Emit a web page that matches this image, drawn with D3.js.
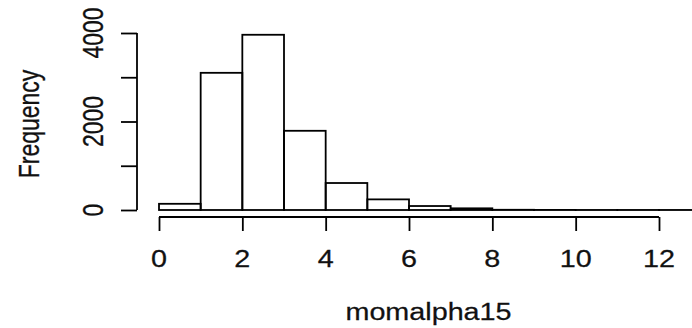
<!DOCTYPE html>
<html>
<head>
<meta charset="utf-8">
<script src="https://cdn.jsdelivr.net/npm/d3@7"></script>
<style>
  html, body { margin: 0; padding: 0; background: #fff; }
  svg { display: block; }
  text { font-family: "Liberation Sans", Arial, sans-serif; fill: #111; stroke: #111; stroke-width: 0.25px; }
</style>
</head>
<body>
<svg id="chart" width="692" height="328"></svg>
<script>
// Data
const binStarts = [0, 1, 2, 3, 4, 5, 6, 7, 8, 9, 10, 11, 12, 13];
const binEnds   = [1, 2, 3, 4, 5, 6, 7, 8, 9, 10, 11, 12, 13, 14];
const counts    = [140, 3100, 3960, 1790, 610, 240, 90, 38, 5, 2, 1, 1, 1, 1];
const xTicks = [0, 2, 4, 6, 8, 10, 12];
const yTicks = [0, 1000, 2000, 3000, 4000];
const yTickLabels = [0, 2000, 4000];
const xTitle = "momalpha15";
const yTitle = "Frequency";

const svg = d3.select("#chart");
const FS = 23, SX = 1.25;

const x = d3.scaleLinear().domain([0, 12]).range([159, 659]);
const y = d3.scaleLinear().domain([0, 4000]).range([210, 33]);

const bins = binStarts.map((s, i) => ({ x0: s, x1: binEnds[i], n: counts[i] }));

// bars
svg.append("g").selectAll("rect").data(bins).join("rect")
  .attr("x", d => x(d.x0))
  .attr("y", d => y(d.n))
  .attr("width", d => x(d.x1) - x(d.x0))
  .attr("height", d => Math.max(0.01, y(0) - y(d.n)))
  .attr("fill", "none")
  .attr("stroke", "#000")
  .attr("stroke-width", 1.8);

// x axis
const xAxisY = 217;
const gx = svg.append("g").attr("transform", `translate(0,${xAxisY})`)
  .call(d3.axisBottom(x).tickValues(xTicks).tickSize(14).tickFormat(""));
gx.select(".domain").attr("d", `M${x(0)},0H${x(12)}`).attr("stroke", "#000").attr("stroke-width", 1.8);
gx.selectAll(".tick line").attr("stroke", "#000").attr("stroke-width", 1.8);

svg.append("g").selectAll("text").data(xTicks).join("text")
  .attr("transform", d => `translate(${x(d)},267) scale(${SX},1)`)
  .attr("text-anchor", "middle")
  .attr("font-size", FS)
  .text(d => d);

// y axis
const yAxisX = 137;
const gy = svg.append("g").attr("transform", `translate(${yAxisX},0)`)
  .call(d3.axisLeft(y).tickValues(yTicks).tickSize(16).tickFormat(""));
gy.select(".domain").attr("d", `M0,${y(0)}V${y(4000)}`).attr("stroke", "#000").attr("stroke-width", 1.8);
gy.selectAll(".tick line").attr("stroke", "#000").attr("stroke-width", 1.8);

svg.append("g").selectAll("text").data(yTickLabels).join("text")
  .attr("transform", d => `translate(103,${y(d)}) scale(${SX},1) rotate(-90)`)
  .attr("text-anchor", "middle")
  .attr("font-size", FS)
  .text(d => d);

// titles
svg.append("text")
  .attr("transform", `translate(428.5,320) scale(${SX},1)`)
  .attr("text-anchor", "middle")
  .attr("font-size", FS)
  .text(xTitle);

svg.append("text")
  .attr("transform", `translate(39,124) scale(${SX},1) rotate(-90)`)
  .attr("text-anchor", "middle")
  .attr("font-size", FS)
  .text(yTitle);
</script>
</body>
</html>
